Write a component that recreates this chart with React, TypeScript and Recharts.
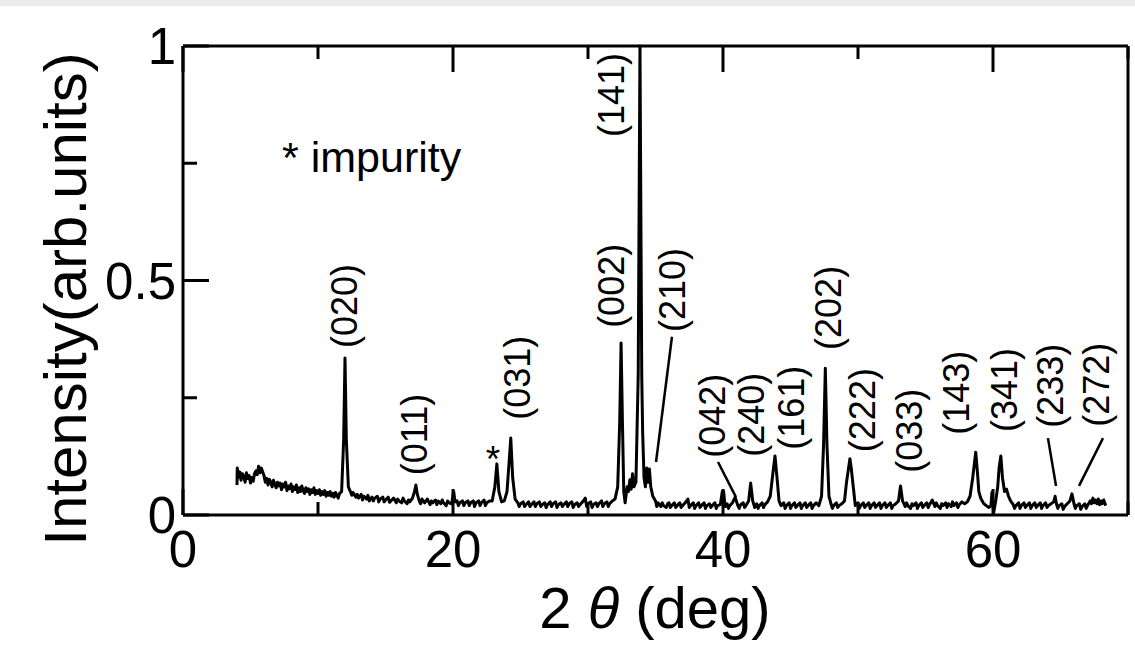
import React from "react";
import { LineChart, Line, XAxis, YAxis, ReferenceLine, ReferenceDot } from "recharts";

const FONT = "'Liberation Sans', Arial, Helvetica, sans-serif";

// 2θ (deg), intensity (normalised) pairs
const scanLow: [number, number][] = [
  [4.0, 0.064], [4.02, 0.1], [4.1, 0.08], [4.2, 0.092], [4.3, 0.074], [4.4, 0.088], [4.5, 0.082],
  [4.6, 0.07], [4.7, 0.09], [4.8, 0.078], [4.9, 0.084], [5.0, 0.068], [5.1, 0.08], [5.2, 0.072],
  [5.3, 0.088], [5.4, 0.094], [5.5, 0.086], [5.6, 0.104], [5.7, 0.09], [5.8, 0.1], [5.9, 0.092],
  [6.0, 0.084], [6.1, 0.07], [6.2, 0.078], [6.3, 0.064], [6.4, 0.076], [6.5, 0.07], [6.6, 0.06],
  [6.7, 0.074], [6.8, 0.066], [6.9, 0.058], [7.0, 0.07], [7.1, 0.062], [7.2, 0.068], [7.3, 0.054],
  [7.4, 0.066], [7.5, 0.06], [7.6, 0.07], [7.7, 0.052], [7.8, 0.062], [7.9, 0.056], [8.0, 0.066],
  [8.1, 0.05], [8.2, 0.06], [8.3, 0.054], [8.4, 0.064], [8.5, 0.048], [8.6, 0.058], [8.7, 0.05],
  [8.8, 0.062], [8.9, 0.052], [9.0, 0.046], [9.1, 0.058], [9.2, 0.05], [9.3, 0.056], [9.4, 0.044],
  [9.5, 0.054], [9.6, 0.048], [9.7, 0.058], [9.8, 0.044], [9.9, 0.052], [10.0, 0.046], [10.1, 0.054],
  [10.2, 0.042], [10.3, 0.05], [10.4, 0.044], [10.5, 0.052], [10.6, 0.04], [10.7, 0.048], [10.8, 0.042],
  [10.9, 0.05], [11.0, 0.04], [11.1, 0.046], [11.2, 0.038], [11.3, 0.048], [11.4, 0.042], [11.5, 0.036],
  [11.6, 0.046], [11.75, 0.05], [11.9, 0.16], [12.0, 0.335], [12.1, 0.16], [12.25, 0.06], [12.4, 0.05],
];

const scanMid: [number, number][] = [
  [12.5, 0.042], [12.6, 0.048], [12.8, 0.038], [12.9, 0.044], [13.0, 0.036], [13.2, 0.044], [13.3, 0.032],
  [13.4, 0.04], [13.6, 0.034], [13.7, 0.042], [13.8, 0.03], [14.0, 0.038], [14.1, 0.03], [14.2, 0.036],
  [14.4, 0.04], [14.5, 0.028], [14.6, 0.034], [14.8, 0.038], [14.9, 0.028], [15.0, 0.032], [15.2, 0.038],
  [15.3, 0.027], [15.4, 0.03], [15.6, 0.036], [15.8, 0.026], [15.9, 0.034], [16.0, 0.03], [16.2, 0.026],
  [16.3, 0.036], [16.4, 0.03], [16.6, 0.024], [16.7, 0.032], [16.8, 0.028], [17.0, 0.036], [17.15, 0.05],
  [17.25, 0.064], [17.35, 0.045], [17.5, 0.03], [17.6, 0.024], [17.7, 0.034], [17.9, 0.026], [18.0, 0.03],
  [18.1, 0.034], [18.3, 0.022], [18.4, 0.03], [18.5, 0.026], [18.7, 0.032], [18.8, 0.022], [18.9, 0.03],
  [19.1, 0.024], [19.2, 0.032], [19.3, 0.026], [19.5, 0.02], [19.6, 0.03], [19.7, 0.026], [19.9, 0.024],
  [20.05, 0.05], [20.15, 0.028], [20.3, 0.03], [20.4, 0.02], [20.5, 0.026], [20.7, 0.03], [20.8, 0.02],
  [20.9, 0.026], [21.1, 0.03], [21.2, 0.02], [21.3, 0.026], [21.5, 0.03], [21.6, 0.018], [21.7, 0.026],
  [21.9, 0.03], [22.0, 0.02], [22.1, 0.026], [22.3, 0.032], [22.4, 0.02], [22.5, 0.026], [22.7, 0.03],
  [22.9, 0.03], [23.1, 0.06], [23.25, 0.109], [23.4, 0.05], [23.6, 0.028], [23.8, 0.03], [24.0, 0.05],
  [24.15, 0.11], [24.28, 0.164], [24.42, 0.08], [24.6, 0.034], [24.8, 0.026], [24.9, 0.018], [25.0, 0.024],
  [25.2, 0.028], [25.3, 0.018], [25.4, 0.022], [25.6, 0.028], [25.7, 0.018], [25.8, 0.022], [26.0, 0.028],
  [26.1, 0.018], [26.2, 0.024], [26.4, 0.028], [26.5, 0.018], [26.6, 0.022], [26.8, 0.026], [26.9, 0.016],
  [27.0, 0.022], [27.2, 0.028], [27.3, 0.018], [27.4, 0.024], [27.6, 0.028], [27.7, 0.016], [27.8, 0.022],
  [28.0, 0.026], [28.1, 0.018], [28.2, 0.022], [28.4, 0.028], [28.5, 0.018], [28.6, 0.024], [28.8, 0.028],
  [28.9, 0.016], [29.0, 0.022], [29.2, 0.026], [29.3, 0.018], [29.4, 0.022], [29.6, 0.028], [29.8, 0.036],
  [29.9, 0.018], [30.0, 0.024], [30.2, 0.028], [30.3, 0.016], [30.4, 0.022], [30.6, 0.026], [30.7, 0.018],
  [30.8, 0.024], [31.0, 0.03], [31.1, 0.018], [31.2, 0.024], [31.4, 0.028], [31.5, 0.018], [31.6, 0.024],
  [31.8, 0.03],
];

const scanMain: [number, number][] = [
  [32.0, 0.034], [32.2, 0.06], [32.35, 0.2], [32.45, 0.367], [32.55, 0.2], [32.65, 0.05], [32.75, 0.026],
  [32.9, 0.06], [33.0, 0.05], [33.1, 0.075], [33.2, 0.055], [33.3, 0.088], [33.4, 0.06], [33.55, 0.07],
  [33.72, 0.3], [33.85, 1.0], [33.98, 0.3], [34.05, 0.175], [34.15, 0.08], [34.25, 0.06], [34.35, 0.1],
  [34.45, 0.07], [34.55, 0.098], [34.65, 0.06], [34.8, 0.04], [35.0, 0.03],
];

const scanHigh: [number, number][] = [
  [35.1, 0.018], [35.2, 0.026], [35.4, 0.018], [35.5, 0.026], [35.6, 0.02], [35.8, 0.016], [35.9, 0.024],
  [36.0, 0.026], [36.1, 0.016], [36.2, 0.02], [36.4, 0.026], [36.5, 0.016], [36.6, 0.02], [36.8, 0.026],
  [36.9, 0.016], [37.0, 0.02], [37.2, 0.026], [37.4, 0.034], [37.5, 0.016], [37.6, 0.02], [37.8, 0.026],
  [37.9, 0.014], [38.0, 0.02], [38.2, 0.026], [38.3, 0.016], [38.4, 0.02], [38.6, 0.026], [38.7, 0.014],
  [38.8, 0.02], [39.0, 0.024], [39.1, 0.016], [39.2, 0.02], [39.4, 0.026], [39.5, 0.014], [39.6, 0.02],
  [39.8, 0.022], [39.95, 0.05], [40.05, 0.05], [40.15, 0.018], [40.3, 0.024], [40.4, 0.014], [40.5, 0.02],
  [40.7, 0.026], [40.9, 0.038], [41.1, 0.02], [41.2, 0.014], [41.3, 0.022], [41.5, 0.026], [41.6, 0.016],
  [41.7, 0.02], [41.9, 0.03], [42.05, 0.068], [42.2, 0.03], [42.35, 0.016], [42.5, 0.024], [42.6, 0.014],
  [42.7, 0.02], [42.9, 0.026], [43.0, 0.016], [43.1, 0.022], [43.3, 0.028], [43.5, 0.04], [43.7, 0.09],
  [43.85, 0.126], [44.0, 0.08], [44.15, 0.03], [44.3, 0.02], [44.5, 0.026], [44.6, 0.014], [44.7, 0.02],
  [44.9, 0.026], [45.0, 0.014], [45.1, 0.02], [45.3, 0.026], [45.4, 0.016], [45.5, 0.02], [45.7, 0.026],
  [45.8, 0.014], [45.9, 0.02], [46.1, 0.026], [46.2, 0.016], [46.3, 0.02], [46.5, 0.026], [46.6, 0.014],
  [46.7, 0.02], [46.9, 0.026], [47.1, 0.02], [47.3, 0.04], [47.45, 0.15], [47.58, 0.313], [47.7, 0.15],
  [47.85, 0.04], [48.0, 0.024], [48.1, 0.014], [48.2, 0.02], [48.4, 0.026], [48.5, 0.016], [48.6, 0.02],
  [48.8, 0.024], [49.0, 0.03], [49.15, 0.07], [49.3, 0.1], [49.4, 0.12], [49.5, 0.1], [49.65, 0.06],
  [49.8, 0.02], [50.0, 0.026], [50.1, 0.014], [50.2, 0.02], [50.4, 0.026], [50.5, 0.016], [50.6, 0.02],
  [50.8, 0.026], [50.9, 0.014], [51.0, 0.02], [51.2, 0.026], [51.3, 0.016], [51.4, 0.02], [51.6, 0.026],
  [51.7, 0.014], [51.8, 0.02], [52.0, 0.026], [52.1, 0.016], [52.2, 0.02], [52.4, 0.026], [52.5, 0.014],
  [52.6, 0.02], [52.8, 0.024], [53.0, 0.03], [53.15, 0.062], [53.3, 0.03], [53.5, 0.018], [53.6, 0.026],
  [53.7, 0.02], [53.9, 0.014], [54.0, 0.024], [54.1, 0.02], [54.3, 0.026], [54.4, 0.014], [54.5, 0.02],
  [54.7, 0.026], [54.8, 0.016], [54.9, 0.02], [55.1, 0.026], [55.2, 0.016], [55.3, 0.022], [55.5, 0.032],
  [55.7, 0.018], [55.8, 0.026], [55.9, 0.02], [56.1, 0.014], [56.2, 0.024], [56.3, 0.02], [56.5, 0.026],
  [56.6, 0.016], [56.7, 0.024], [56.9, 0.018], [57.0, 0.028], [57.1, 0.02], [57.3, 0.026], [57.4, 0.016],
  [57.5, 0.022], [57.7, 0.028], [57.9, 0.024], [58.1, 0.028], [58.3, 0.04], [58.5, 0.08], [58.72, 0.134],
  [58.85, 0.09], [58.95, 0.05], [59.1, 0.035], [59.3, 0.025], [59.5, 0.02], [59.7, 0.016], [59.85, 0.02],
  [59.92, 0.048], [60.05, 0.005], [60.2, 0.03], [60.35, 0.06], [60.45, 0.1], [60.58, 0.126], [60.7, 0.08],
  [60.85, 0.05], [61.0, 0.055], [61.15, 0.04], [61.3, 0.03], [61.5, 0.022], [61.6, 0.014], [61.7, 0.02],
  [61.9, 0.026], [62.0, 0.014], [62.1, 0.02], [62.3, 0.026], [62.4, 0.016], [62.5, 0.02], [62.7, 0.026],
  [62.8, 0.014], [62.9, 0.02], [63.1, 0.026], [63.2, 0.016], [63.3, 0.02], [63.5, 0.026], [63.6, 0.014],
  [63.7, 0.02], [63.9, 0.026], [64.0, 0.016], [64.1, 0.02], [64.3, 0.024], [64.5, 0.028], [64.6, 0.04],
  [64.7, 0.024], [64.8, 0.014], [64.9, 0.02], [65.1, 0.024], [65.2, 0.012], [65.3, 0.018], [65.5, 0.024],
  [65.7, 0.03], [65.85, 0.045], [66.0, 0.024], [66.1, 0.014], [66.2, 0.02], [66.4, 0.024], [66.5, 0.012],
  [66.6, 0.018], [66.8, 0.024], [66.9, 0.014], [67.0, 0.02], [67.2, 0.03], [67.3, 0.024], [67.4, 0.036],
  [67.5, 0.026], [67.6, 0.032], [67.7, 0.024], [67.8, 0.034], [67.9, 0.022], [68.0, 0.03], [68.1, 0.024],
  [68.2, 0.032], [68.35, 0.02],
];

const xTicks = [0, 10, 20, 30, 40, 50, 60, 70];
const xLabeled = [0, 20, 40, 60];
const yTicks = [0, 0.25, 0.5, 0.75, 1];
const yLabeled = [0, 0.5, 1];

const hklLabels = ["(020)", "(011)", "(031)", "(002)", "(141)", "(210)", "(042)", "(240)", "(161)", "(202)", "(222)", "(033)", "(143)", "(341)", "(233)", "(272)"];
const hklX = [12.22, 17.41, 25.04, 32.0, 32.0, 36.52, 39.48, 42.37, 45.33, 48.07, 50.59, 54.07, 57.56, 61.11, 64.52, 67.93];
const hklY = [0.356, 0.085, 0.203, 0.399, 0.806, 0.39, 0.122, 0.124, 0.139, 0.352, 0.134, 0.09, 0.171, 0.177, 0.186, 0.188];

// leader lines from label to weak peak
const leaderFromX = [36.22, 39.63, 64.07, 68.15];
const leaderFromY = [0.38, 0.113, 0.164, 0.164];
const leaderToX = [35.04, 40.96, 64.67, 66.37];
const leaderToY = [0.113, 0.038, 0.062, 0.062];

const impurityX = 22.96;
const impurityY = 0.092;

const rows = [...scanLow, ...scanMid, ...scanMain, ...scanHigh].map(([t, i]) => ({ t, i }));

function BottomTick({ x, y, payload }: any) {
  const major = xLabeled.includes(payload.value);
  return (
    <g>
      <line x1={x} y1={y} x2={x} y2={y - (major ? 26 : 13)} stroke="#000" strokeWidth={3} />
      {major && (
        <text x={x} y={y + 52} textAnchor="middle" fontSize={51} fontFamily={FONT} fill="#000">
          {payload.value}
        </text>
      )}
    </g>
  );
}

function TopTick({ x, y, payload }: any) {
  const major = xLabeled.includes(payload.value);
  return <line x1={x} y1={y} x2={x} y2={y + (major ? 26 : 13)} stroke="#000" strokeWidth={3} />;
}

function LeftTick({ x, y, payload }: any) {
  const major = yLabeled.includes(payload.value);
  return (
    <g>
      <line x1={x} y1={y} x2={x + (major ? 26 : 14)} y2={y} stroke="#000" strokeWidth={3} />
      {major && (
        <text x={x - 7} y={y + 18} textAnchor="end" fontSize={51} fontFamily={FONT} fill="#000">
          {payload.value}
        </text>
      )}
    </g>
  );
}

function RightTick({ x, y, payload }: any) {
  const major = yLabeled.includes(payload.value);
  return <line x1={x} y1={y} x2={x - (major ? 26 : 14)} y2={y} stroke="#000" strokeWidth={3} />;
}

const frame = { stroke: "#000", strokeWidth: 3 };

export default function App() {
  return (
    <div style={{ position: "absolute", left: 0, top: 0, width: 1135, height: 661, background: "#fff" }}>
      <div style={{ position: "absolute", left: 0, top: 0, width: 1135, height: 6, background: "#ebebeb" }} />
      <LineChart width={1135} height={661} data={rows} margin={{ top: 45, right: 6, bottom: 86, left: 83 }}>
        <XAxis xAxisId="b" dataKey="t" type="number" domain={[0, 70]} ticks={xTicks} interval={0}
          height={60} tickSize={0} tickMargin={0} tickLine={false} axisLine={frame} tick={<BottomTick />} />
        <XAxis xAxisId="t" orientation="top" dataKey="t" type="number" domain={[0, 70]} ticks={xTicks} interval={0}
          height={1} tickSize={0} tickMargin={0} tickLine={false} axisLine={frame} tick={<TopTick />} />
        <YAxis yAxisId="l" type="number" domain={[0, 1]} ticks={yTicks} interval={0} width={100}
          tickSize={0} tickMargin={0} tickLine={false} axisLine={frame} tick={<LeftTick />} />
        <YAxis yAxisId="r" orientation="right" type="number" domain={[0, 1]} ticks={yTicks} interval={0} width={1}
          tickSize={0} tickMargin={0} tickLine={false} axisLine={frame} tick={<RightTick />} />
        <Line xAxisId="b" yAxisId="l" type="linear" dataKey="i" stroke="#000" strokeWidth={3}
          strokeLinejoin="round" dot={false} isAnimationActive={false} />
        {leaderFromX.map((fx, k) => (
          <ReferenceLine key={k} xAxisId="b" yAxisId="l" stroke="#000" strokeWidth={2.5}
            segment={[{ x: fx, y: leaderFromY[k] }, { x: leaderToX[k], y: leaderToY[k] }]} />
        ))}
        {hklLabels.map((lab, k) => (
          <ReferenceDot key={lab} xAxisId="b" yAxisId="l" x={hklX[k]} y={hklY[k]} r={0}
            shape={(p: any) => (
              <text transform={`translate(${p.cx},${p.cy}) rotate(-90)`} dy="0.26em" fontSize={36}
                fontFamily={FONT} fill="#000">
                {lab}
              </text>
            )} />
        ))}
        <ReferenceDot xAxisId="b" yAxisId="l" x={impurityX} y={impurityY} r={0}
          shape={(p: any) => (
            <text x={p.cx} y={p.cy} textAnchor="middle" fontSize={37} fontFamily={FONT} fill="#000">*</text>
          )} />
      </LineChart>
      <svg width={1135} height={661} style={{ position: "absolute", left: 0, top: 0, pointerEvents: "none" }}>
        <text x={282} y={172} fontSize={43} fontFamily={FONT} fill="#000">* impurity</text>
        <text transform="translate(86,299) rotate(-90)" textAnchor="middle" fontSize={60} fontFamily={FONT} fill="#000">
          Intensity(arb.units)
        </text>
        <text x={655} y={628} textAnchor="middle" fontSize={58} fontFamily={FONT} fill="#000">
          2 <tspan fontStyle="italic">θ</tspan> (deg)
        </text>
      </svg>
    </div>
  );
}
